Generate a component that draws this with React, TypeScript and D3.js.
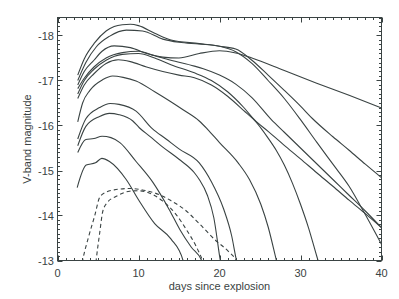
import React from 'react';
import * as d3 from 'd3';

type Pt = [number, number];

// days since explosion, V-band magnitude
const model1: Pt[] = [[2.5,-17.12],[3.3,-17.48],[4.6,-17.84],[6,-18.1],[7,-18.2],[8,-18.24],[9,-18.25],[10,-18.22],[12,-18.05],[14,-17.9],[17.5,-17.82],[20,-17.76],[22,-17.7],[24,-17.45],[26,-17.12],[28,-16.78],[30,-16.43],[31.5,-16.15],[34,-15.75],[36,-15.45],[38,-15.14],[40,-14.84]];
const model2: Pt[] = [[2.5,-17.0],[3.5,-17.4],[4.8,-17.75],[6.4,-17.98],[8.5,-18.12],[10.5,-18.1],[13,-17.92],[15,-17.85],[17.5,-17.81],[20,-17.76],[22,-17.64],[24,-17.38],[26,-17.0],[28,-16.6],[30,-16.13],[32,-15.63],[34,-15.14],[36,-14.65],[38,-14.02],[40,-13.36]];
const model3: Pt[] = [[2.5,-16.9],[3.3,-17.2],[4.5,-17.45],[5.5,-17.65],[7,-17.77],[9,-17.73],[11,-17.6],[13,-17.52],[15,-17.5],[17.5,-17.6],[20,-17.66],[22,-17.61],[24,-17.5],[28,-17.22],[32,-16.94],[36,-16.67],[40,-16.39]];
const model4: Pt[] = [[2.5,-16.82],[3.3,-17.05],[4.5,-17.3],[6,-17.5],[8,-17.62],[10,-17.65],[12,-17.55],[14,-17.45],[16.9,-17.32],[18,-17.26],[20,-17.12],[22,-16.92],[24,-16.62],[26.4,-16.13],[28,-15.85],[30,-15.5],[32,-15.15],[34,-14.8],[36,-14.45],[38,-14.1],[40,-13.73]];
const model5: Pt[] = [[2.5,-16.7],[3.3,-17.0],[4.5,-17.25],[6,-17.45],[8,-17.58],[10,-17.6],[12,-17.5],[14,-17.35],[16.9,-17.17],[19,-17.0],[21,-16.75],[23,-16.4],[24.3,-16.13],[26,-15.87],[28,-15.56],[30,-15.26],[32,-14.95],[34,-14.65],[36,-14.34],[38,-14.04],[40,-13.73]];
const model6: Pt[] = [[2.5,-16.6],[3.3,-16.9],[4.5,-17.15],[6,-17.38],[7.5,-17.46],[9,-17.42],[11,-17.3],[13,-17.2],[15,-17.12],[16.9,-17.06],[19,-16.9],[21,-16.65],[23,-16.33],[24.5,-16.08],[26,-15.72],[27,-15.45],[28,-15.12],[29,-14.72],[30,-14.25],[31,-13.72],[32,-13.1],[32.5,-12.8]];
const model7: Pt[] = [[2.5,-16.08],[3.1,-16.5],[4,-16.78],[5.6,-17.02],[6.8,-17.1],[8.1,-17.07],[9.7,-16.99],[12,-16.75],[13.8,-16.55],[15.5,-16.35],[17.5,-16.1],[18.5,-15.92],[20,-15.62],[22.3,-15.17],[23.7,-14.8],[25.1,-14.25],[26,-13.75],[27,-13.02],[27.3,-12.8]];
const model8: Pt[] = [[2.5,-15.7],[3.5,-16.15],[5.2,-16.4],[6.5,-16.49],[7.6,-16.47],[9.7,-16.32],[11.7,-15.93],[13.4,-15.7],[15,-15.48],[17.5,-15.17],[19,-14.75],[20.5,-14.15],[21.5,-13.55],[22.1,-13.0],[22.4,-12.8]];
const model9: Pt[] = [[2.5,-15.55],[3.5,-15.98],[5.2,-16.2],[6.4,-16.27],[7.6,-16.24],[9.3,-16.1],[10.1,-15.95],[11.4,-15.76],[13,-15.52],[15,-15.25],[16.9,-14.95],[17.5,-14.8],[18.5,-14.45],[19.3,-13.95],[20.1,-13.0],[20.3,-12.8]];
const model10: Pt[] = [[2.5,-15.4],[3.5,-15.69],[4.5,-15.71],[5.5,-15.76],[6.6,-15.73],[7.7,-15.62],[9.7,-15.2],[11.8,-14.73],[13.8,-14.13],[15.1,-13.69],[16.5,-13.3],[17.8,-13.0],[18.2,-12.8]];
const model11: Pt[] = [[2.43,-14.62],[3.54,-15.12],[4.69,-15.17],[5.47,-15.27],[6.42,-15.2],[8.48,-14.8],[10,-14.35],[12,-13.82],[14,-13.48],[15.5,-13.0],[15.7,-12.8]];
const dashedA: Pt[] = [[2.9,-12.8],[3.1,-13.0],[3.8,-13.5],[4.6,-14.0],[5.2,-14.4],[6,-14.52],[7,-14.57],[9,-14.6],[11,-14.55],[13,-14.43],[14,-14.33],[15.7,-14.13],[17.5,-13.82],[19.5,-13.45],[21,-13.22],[22.1,-13.0],[22.4,-12.9]];
const dashedB: Pt[] = [[4.65,-12.8],[4.77,-13.0],[5.2,-13.6],[5.6,-14.1],[6.2,-14.3],[7.2,-14.42],[8.9,-14.54],[10,-14.55],[11,-14.52],[13,-14.32],[14.65,-14.02],[15.9,-13.69],[17.1,-13.32],[17.9,-13.0],[18.1,-12.9]];

const solidModels = [model1, model2, model3, model4, model5, model6, model7, model8, model9, model10, model11];
const dashedModels = [dashedA, dashedB];

const xTickValues = [0, 10, 20, 30, 40];
const yTickValues = [-18, -17, -16, -15, -14, -13];
const xLabel = 'days since explosion';
const yLabel = 'V-band magnitude';

const INK = '#3a4343';
const FONT = "'Liberation Sans', Arial, Helvetica, sans-serif";

export default function App() {
  const x = d3.scaleLinear().domain([0, 40]).range([57.5, 381.5]);
  const y = d3.scaleLinear().domain([-13, -18.4]).range([260.5, 17.5]);
  const line = d3.line<Pt>().x(d => x(d[0])).y(d => y(d[1])).curve(d3.curveMonotoneX);

  const minorX = d3.range(0, 41, 1);
  const minorY = d3.range(-184, -129, 1).map(v => v / 10);
  const [x0, x1] = x.range();
  const [yb, yt] = y.range();

  return (
    <svg width={399} height={299} style={{ position: 'absolute', left: 0, top: 0, background: '#fff' }}>
      <defs>
        <clipPath id="plot">
          <rect x={x0} y={yt} width={x1 - x0} height={yb - yt} />
        </clipPath>
      </defs>
      <g clipPath="url(#plot)" fill="none" stroke={INK} strokeWidth={1.1}>
        {solidModels.map((m, i) => <path key={'s' + i} d={line(m) || ''} />)}
        {dashedModels.map((m, i) => <path key={'d' + i} d={line(m) || ''} strokeDasharray="4,3" />)}
      </g>
      <g stroke={INK} strokeWidth={1} fill="none">
        <rect x={x0} y={yt} width={x1 - x0} height={yb - yt} />
        {minorX.map(v => {
          const major = v % 10 === 0;
          const len = major ? 5 : 2.5;
          const px = Math.round(x(v)) + 0.5;
          return (
            <g key={'xt' + v}>
              <line x1={px} x2={px} y1={yb} y2={yb - len} />
              <line x1={px} x2={px} y1={yt} y2={yt + len} />
            </g>
          );
        })}
        {minorY.map(v => {
          const major = Math.abs(v - Math.round(v)) < 1e-6;
          const len = major ? 5 : 2.5;
          const py = Math.round(y(v)) + 0.5;
          return (
            <g key={'yt' + v}>
              <line x1={x0} x2={x0 + len} y1={py} y2={py} />
              <line x1={x1} x2={x1 - len} y1={py} y2={py} />
            </g>
          );
        })}
      </g>
      <g fill={INK} fontFamily={FONT} fontSize={11}>
        {xTickValues.map(v => (
          <text key={'xl' + v} x={x(v)} y={277} textAnchor="middle">{v}</text>
        ))}
        {yTickValues.map(v => (
          <text key={'yl' + v} x={54} y={y(v) + 4} textAnchor="end">{v}</text>
        ))}
        <text x={(x0 + x1) / 2} y={290} textAnchor="middle">{xLabel}</text>
        <text transform={`translate(31,${(yt + yb) / 2}) rotate(-90)`} textAnchor="middle">{yLabel}</text>
      </g>
    </svg>
  );
}
